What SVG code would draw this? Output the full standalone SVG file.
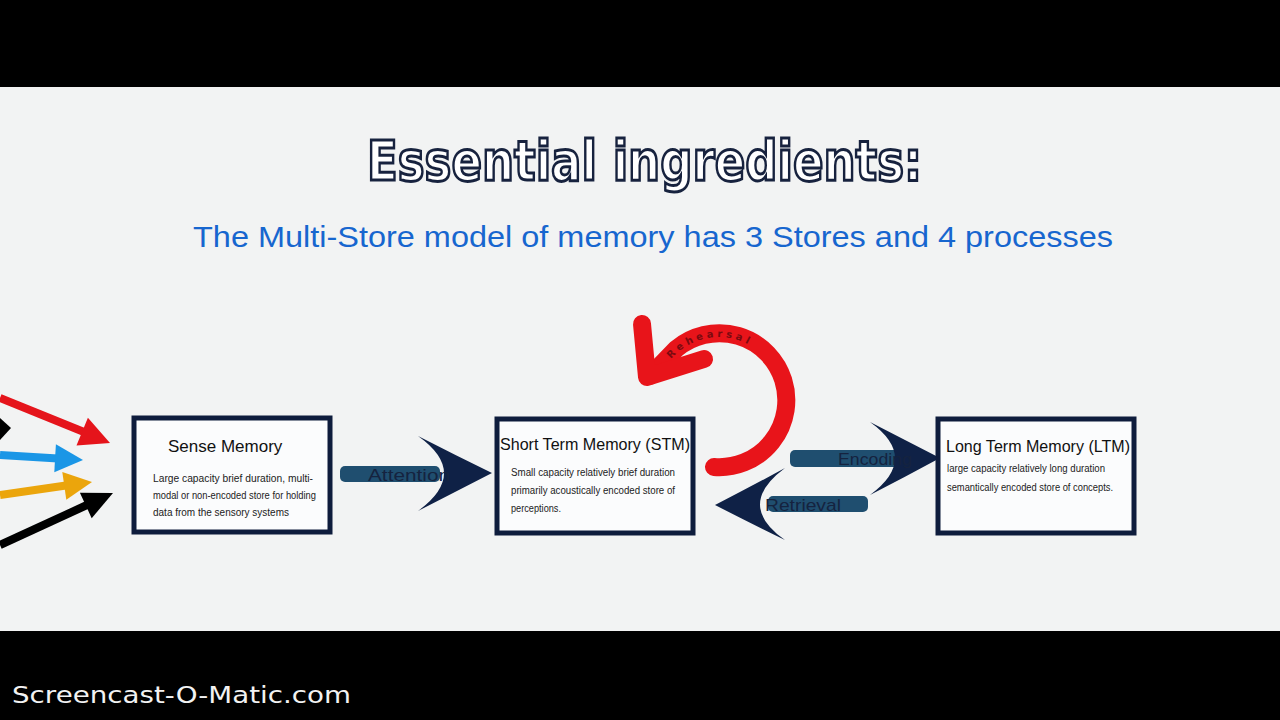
<svg xmlns="http://www.w3.org/2000/svg" width="1280" height="720" viewBox="0 0 1280 720">
  <style>
    .box { fill: #fbfcfd; stroke: #0e1c3c; stroke-width: 5; }
    .ttl { font-family: "Liberation Sans", "DejaVu Sans", sans-serif; font-size: 17px; fill: #111; }
    .body { font-family: "Liberation Sans", "DejaVu Sans", sans-serif; font-size: 10px; fill: #222; }
    .shaft { fill: #1f4e6f; }
    .head { fill: #0f2146; }
    .lbl { font-family: "Liberation Sans", "DejaVu Sans", sans-serif; font-size: 17px; fill: #15233f; }
  </style>
  <rect x="0" y="0" width="1280" height="720" fill="#000"/>
  <rect x="0" y="87" width="1280" height="544" fill="#f2f3f3"/>

  <text x="367" y="180" font-family="'DejaVu Sans', sans-serif" font-weight="bold" font-size="56" fill="#ffffff" stroke="#17223e" stroke-width="3" textLength="555" lengthAdjust="spacingAndGlyphs">Essential ingredients:</text>
  <text x="193" y="247" font-family="'Liberation Sans', sans-serif" font-size="30" fill="#1766cf" textLength="920" lengthAdjust="spacingAndGlyphs">The Multi-Store model of memory has 3 Stores and 4 processes</text>

  <g id="connectors">
    <g id="inputs">
      <line x1="0" y1="398" x2="84" y2="432" stroke="#e5141b" stroke-width="8"/>
      <polygon points="110,443 76.5,445.5 87.9,417.7" fill="#e5141b"/>
      <line x1="0" y1="455" x2="58" y2="458.5" stroke="#1a96e6" stroke-width="8"/>
      <polygon points="83,460 54.3,472.3 55.9,444.3" fill="#1a96e6"/>
      <line x1="0" y1="495" x2="66" y2="485.5" stroke="#eba50c" stroke-width="8"/>
      <polygon points="92,482 66.3,499.8 62.3,472" fill="#eba50c"/>
      <line x1="0" y1="545" x2="88" y2="504.5" stroke="#000" stroke-width="8"/>
      <polygon points="113,493 91.7,518.2 79.9,492.8" fill="#000"/>
      <polygon points="0,418 11,428 0,440" fill="#000"/>
    </g>
    <g id="attention">
      <rect class="shaft" x="340" y="466" width="100" height="16" rx="5"/>
      <path class="head" d="M418,436 Q455,455 492,473 Q455,492 418,511 Q470,473 418,436 Z"/>
      <text class="lbl" x="368" y="481" textLength="82" lengthAdjust="spacingAndGlyphs">Attention</text>
    </g>
    <g id="encoding">
      <rect class="shaft" x="790" y="450" width="110" height="17" rx="5"/>
      <path class="head" d="M870,422 Q905,440 940,458 Q905,477 870,495 Q920,458 870,422 Z"/>
      <text class="lbl" x="838" y="465" textLength="74" lengthAdjust="spacingAndGlyphs">Encoding</text>
    </g>
    <g id="retrieval">
      <rect class="shaft" x="768" y="496" width="100" height="16" rx="5"/>
      <path class="head" d="M785,468 Q750,487 715,505 Q750,523 785,540 Q735,505 785,468 Z"/>
      <text class="lbl" x="765" y="511" textLength="76" lengthAdjust="spacingAndGlyphs">Retrieval</text>
    </g>
    <g id="rehearsal">
      <path d="M714,467 A67,67 0 1 0 676.6,348.6 L650,376" fill="none" stroke="#e8141a" stroke-width="18" stroke-linecap="round" stroke-linejoin="round"/>
      <path d="M642,324 L647,377 L704,359" fill="none" stroke="#e8141a" stroke-width="18" stroke-linecap="round" stroke-linejoin="round"/>
      <path id="rehPath" d="M667.4,363.9 A63,63 0 0 1 776.1,373.4" fill="none"/>
      <text font-family="'DejaVu Sans', sans-serif" font-size="10" font-weight="bold" fill="#7a0a10" letter-spacing="3.5"><textPath href="#rehPath" startOffset="6">Rehearsal</textPath></text>
    </g>
  </g>

  <g id="sense-memory">
    <rect class="box" x="134" y="418" width="196" height="114"/>
    <text class="ttl" x="168" y="452">Sense Memory</text>
    <text class="body" x="153" y="482" textLength="160" lengthAdjust="spacingAndGlyphs">Large capacity brief duration, multi-</text>
    <text class="body" x="153" y="499" textLength="163" lengthAdjust="spacingAndGlyphs">modal or non-encoded store for holding</text>
    <text class="body" x="153" y="516" textLength="136" lengthAdjust="spacingAndGlyphs">data from the sensory systems</text>
  </g>

  <g id="stm">
    <rect class="box" x="497" y="419" width="196" height="114"/>
    <text class="ttl" x="500" y="450" textLength="190" lengthAdjust="spacingAndGlyphs">Short Term Memory (STM)</text>
    <text class="body" x="511" y="476" textLength="164" lengthAdjust="spacingAndGlyphs">Small capacity relatively brief duration</text>
    <text class="body" x="511" y="494" textLength="164" lengthAdjust="spacingAndGlyphs">primarily acoustically encoded store of</text>
    <text class="body" x="511" y="512" textLength="50" lengthAdjust="spacingAndGlyphs">perceptions.</text>
  </g>

  <g id="ltm">
    <rect class="box" x="938" y="419" width="196" height="114"/>
    <text class="ttl" x="946" y="452" textLength="184" lengthAdjust="spacingAndGlyphs">Long Term Memory (LTM)</text>
    <text class="body" x="947" y="472" textLength="158" lengthAdjust="spacingAndGlyphs">large capacity relatively long duration</text>
    <text class="body" x="947" y="491" textLength="166" lengthAdjust="spacingAndGlyphs">semantically encoded store of concepts.</text>
  </g>

  <text x="12" y="703" font-family="'DejaVu Sans', sans-serif" font-size="23" fill="#f2f2f2" textLength="339" lengthAdjust="spacingAndGlyphs">Screencast-O-Matic.com</text>
</svg>
